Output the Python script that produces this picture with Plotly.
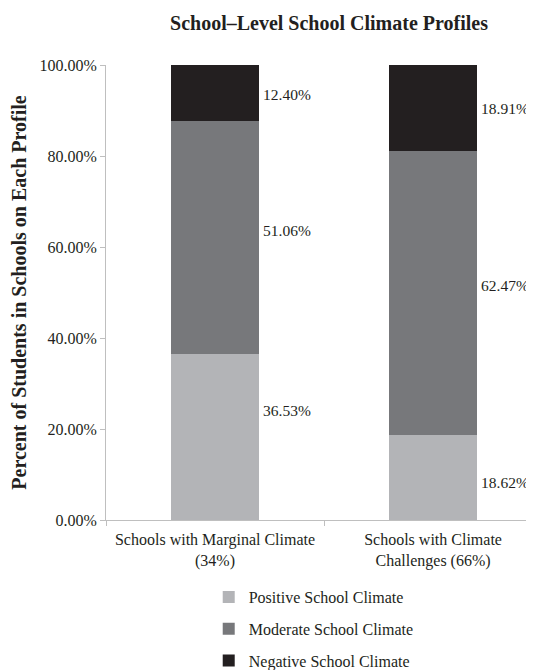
import plotly.graph_objects as go

categories = ["Schools with Marginal Climate<br>(34%)", "Schools with Climate<br>Challenges (66%)"]
series_names = ["Positive School Climate", "Moderate School Climate", "Negative School Climate"]
positive = [36.53, 18.62]
moderate = [51.06, 62.47]
negative = [12.40, 18.91]
y_ticks = [0, 20, 40, 60, 80, 100]

colors = ["#b3b4b7", "#77787b", "#231f20"]
label_shift = [[26, -5], [7, 8], [-1, 0]]  # pixel nudges for data labels

FONT = "Liberation Serif"
TXT = "#231f20"
series = [positive, moderate, negative]

# page body has an 8px default margin, so the figure is laid out 8px smaller
W, H = 526, 662

fig = go.Figure()
for i, (name, vals) in enumerate(zip(series_names, series)):
    fig.add_trace(go.Bar(
        x=categories, y=vals, name=name, marker_color=colors[i],
        marker_line_width=0, width=0.405, legendgroup=name,
    ))

annotations = []
for i, vals in enumerate(series):
    for j, v in enumerate(vals):
        base = sum(series[k][j] for k in range(i))
        annotations.append(dict(
            x=j + 0.2025, y=base + v / 2, xref="x", yref="y",
            text=f"{v:.2f}%", showarrow=False, xanchor="left", yanchor="middle",
            xshift=2, yshift=label_shift[i][j],
            font=dict(family=FONT, size=15.5, color=TXT),
        ))

fig.update_layout(
    width=W, height=H,
    barmode="stack", bargap=0.6,
    plot_bgcolor="white", paper_bgcolor="white",
    margin=dict(l=98, r=0, t=57, b=150, autoexpand=False),
    font=dict(family=FONT, size=16, color=TXT),
    title=dict(text="<b>School–Level School Climate Profiles</b>", x=321 / W, xanchor="center",
               y=1 - 15 / H, yanchor="middle", yref="container",
               font=dict(family=FONT, size=20, color=TXT)),
    annotations=annotations,
    showlegend=True,
    legend=dict(orientation="v", x=0.24, xanchor="left", y=-0.132, yanchor="top",
                traceorder="grouped", tracegroupgap=8,
                font=dict(family=FONT, size=16, color=TXT), itemwidth=30),
    xaxis=dict(type="category", range=[-0.5, 1.463], showline=True, linecolor="#bfbfbf",
               linewidth=1, ticks="outside", tickson="boundaries", ticklen=5, tickcolor="#bfbfbf",
               showgrid=False, automargin=False, ticklabelstandoff=5,
               tickfont=dict(family=FONT, size=16, color=TXT)),
    yaxis=dict(range=[0, 100], tickvals=y_ticks, ticktext=[f"{t:.2f}%" for t in y_ticks],
               showline=True, linecolor="#bfbfbf", linewidth=1, ticks="outside", ticklen=5,
               tickcolor="#bfbfbf", showgrid=False, zeroline=False, automargin=False,
               tickfont=dict(family=FONT, size=16, color=TXT),
               title=dict(text="<b>Percent of Students in Schools on Each Profile</b>",
                          font=dict(family=FONT, size=20, color=TXT), standoff=8)),
)

fig.write_html("out.html")
